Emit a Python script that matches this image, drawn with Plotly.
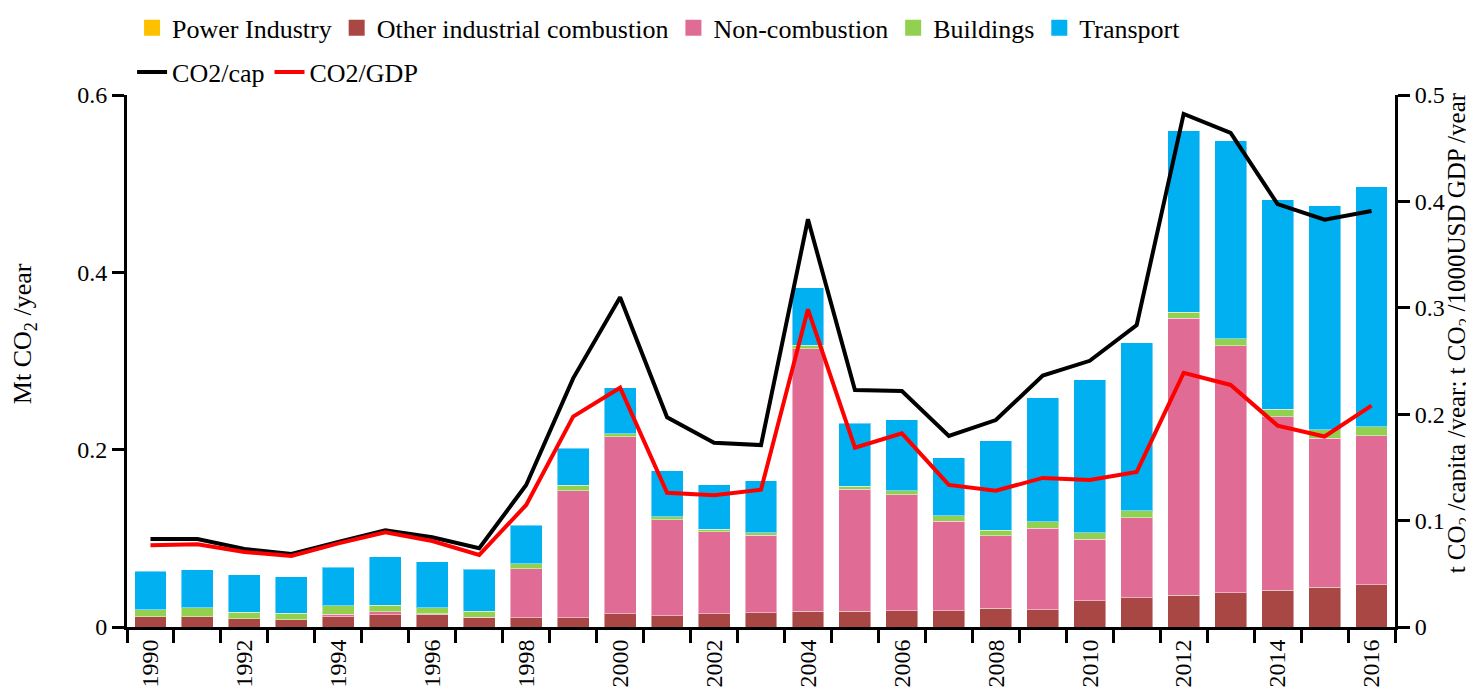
import plotly.graph_objects as go

years = [1990, 1991, 1992, 1993, 1994, 1995, 1996, 1997, 1998, 1999,
         2000, 2001, 2002, 2003, 2004, 2005, 2006, 2007, 2008, 2009,
         2010, 2011, 2012, 2013, 2014, 2015, 2016]

power_industry = [0, 0, 0, 0, 0, 0, 0, 0, 0, 0,
                  0, 0, 0, 0, 0, 0, 0, 0, 0, 0,
                  0, 0, 0, 0, 0, 0, 0]
other_industrial = [0.0116, 0.0116, 0.0094, 0.0083, 0.0116, 0.0139, 0.0143, 0.0105, 0.0105, 0.0105,
                    0.0147, 0.0128, 0.0147, 0.0158, 0.0180, 0.0180, 0.0184, 0.0184, 0.0214, 0.0197,
                    0.0294, 0.0330, 0.0357, 0.0388, 0.0412, 0.0447, 0.0477]
non_combustion = [0.0000, 0.0000, 0.0000, 0.0000, 0.0027, 0.0034, 0.0005, 0.0005, 0.0553, 0.1433,
                  0.2000, 0.1082, 0.0928, 0.0876, 0.2956, 0.1373, 0.1305, 0.1008, 0.0816, 0.0917,
                  0.0696, 0.0905, 0.3123, 0.2785, 0.1958, 0.1682, 0.1679]
buildings = [0.0076, 0.0102, 0.0075, 0.0071, 0.0097, 0.0072, 0.0070, 0.0067, 0.0053, 0.0060,
             0.0030, 0.0035, 0.0030, 0.0030, 0.0044, 0.0037, 0.0045, 0.0060, 0.0064, 0.0075,
             0.0075, 0.0078, 0.0070, 0.0077, 0.0085, 0.0097, 0.0105]
transport = [0.0436, 0.0425, 0.0418, 0.0410, 0.0433, 0.0548, 0.0519, 0.0474, 0.0439, 0.0418,
             0.0523, 0.0515, 0.0500, 0.0583, 0.0647, 0.0710, 0.0801, 0.0658, 0.1004, 0.1394,
             0.1723, 0.1892, 0.2047, 0.2235, 0.2362, 0.2524, 0.2707]

co2_per_cap = [0.0827, 0.0827, 0.0733, 0.0686, 0.0799, 0.0909, 0.0843, 0.0740, 0.1335, 0.2337,
               0.3099, 0.1971, 0.1732, 0.1710, 0.3832, 0.2227, 0.2218, 0.1795, 0.1945, 0.2363,
               0.2502, 0.2838, 0.4822, 0.4644, 0.3974, 0.3828, 0.3910]
co2_per_gdp = [0.0768, 0.0777, 0.0705, 0.0667, 0.0786, 0.0890, 0.0808, 0.0677, 0.1147, 0.1977,
               0.2249, 0.1262, 0.1238, 0.1290, 0.2986, 0.1685, 0.1820, 0.1335, 0.1281, 0.1401,
               0.1382, 0.1457, 0.2388, 0.2275, 0.1893, 0.1790, 0.2081]

label_years = [1990, 1992, 1994, 1996, 1998, 2000, 2002, 2004, 2006, 2008,
               2010, 2012, 2014, 2016]

left_title = "Mt CO<sub>2</sub> /year"
right_title = "t CO<sub>2</sub> /capita /year; t CO<sub>2</sub> /1000USD GDP /year"

sectors = [
    ("Power Industry", power_industry, "#FFC000"),
    ("Other industrial combustion", other_industrial, "#A94744"),
    ("Non-combustion", non_combustion, "#E06C96"),
    ("Buildings", buildings, "#92D050"),
    ("Transport", transport, "#00B0F0"),
]

FONT = "Liberation Serif"

fig = go.Figure()

for name, vals, color in sectors:
    fig.add_trace(go.Bar(
        x=years, y=vals, name=name, marker_color=color,
        marker_line=dict(color="rgba(255,255,255,0.45)", width=1),
        showlegend=False, yaxis="y",
    ))
    # legend entry (larger square symbol)
    fig.add_trace(go.Scatter(
        x=[None], y=[None], mode="markers", name=name,
        marker=dict(symbol="square", size=16, color=color),
        legend="legend", showlegend=True,
    ))

fig.add_trace(go.Scatter(
    x=years, y=co2_per_cap, name="CO2/cap", mode="lines",
    line=dict(color="black", width=4), yaxis="y2", legend="legend2",
))
fig.add_trace(go.Scatter(
    x=years, y=co2_per_gdp, name="CO2/GDP", mode="lines",
    line=dict(color="#FF0000", width=4), yaxis="y2", legend="legend2",
))

# The page body adds an 8px offset, so the figure is sized 8px smaller.
fig.update_layout(
    width=1466, height=683,
    margin=dict(l=119, r=79, t=87, b=64, autoexpand=False),
    paper_bgcolor="white", plot_bgcolor="white",
    font=dict(family=FONT, size=24, color="black"),
    barmode="stack", bargap=0.32,
    xaxis=dict(
        range=[1989.5, 2016.5],
        tickmode="array", tickvals=label_years, ticktext=[str(y) for y in label_years],
        tickangle=-90, ticks="", showgrid=False, zeroline=False,
        showline=True, linecolor="black", linewidth=3,
        minor=dict(tick0=1989.5, dtick=1, ticks="outside", ticklen=13,
                   tickwidth=3, tickcolor="black", showgrid=False),
        tickfont=dict(size=24),
    ),
    yaxis=dict(
        range=[0, 0.6], tickvals=[0, 0.2, 0.4, 0.6], ticktext=["0", "0.2", "0.4", "0.6"],
        ticks="outside", ticklen=12, tickwidth=3, tickcolor="black",
        showline=True, linecolor="black", linewidth=3,
        showgrid=False, zeroline=False,
    ),
    yaxis2=dict(
        range=[0, 0.5], tickvals=[0, 0.1, 0.2, 0.3, 0.4, 0.5],
        ticktext=["0", "0.1", "0.2", "0.3", "0.4", "0.5"],
        overlaying="y", side="right",
        ticks="outside", ticklen=12, tickwidth=3, tickcolor="black",
        showline=True, linecolor="black", linewidth=3,
        showgrid=False, zeroline=False,
    ),
    legend=dict(
        orientation="h", x=0.004, xanchor="left", y=1.126, yanchor="middle",
        font=dict(size=26), bgcolor="rgba(0,0,0,0)", traceorder="normal",
    ),
    legend2=dict(
        orientation="h", x=0.004, xanchor="left", y=1.043, yanchor="middle",
        font=dict(size=26), bgcolor="rgba(0,0,0,0)", traceorder="normal",
    ),
    annotations=[
        dict(text=left_title, textangle=-90, xref="paper", yref="paper",
             x=-0.081, y=0.551, xanchor="center", yanchor="middle",
             showarrow=False, font=dict(size=26)),
        dict(text=right_title, textangle=-90, xref="paper", yref="paper",
             x=1.0497, y=0.552, xanchor="center", yanchor="middle",
             showarrow=False, font=dict(size=25)),
    ],
)

fig.write_html("out.html")
